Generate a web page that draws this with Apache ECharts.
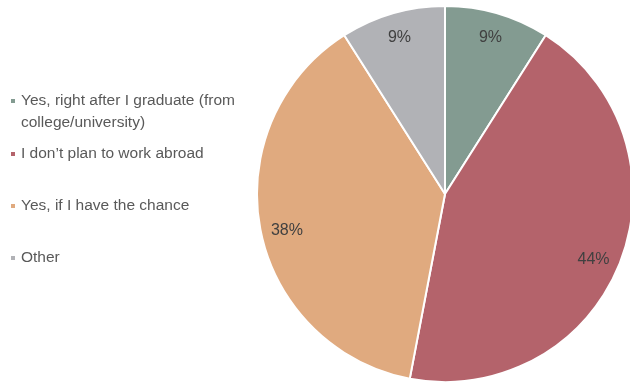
<!DOCTYPE html>
<html><head><meta charset="utf-8">
<script src="https://cdn.jsdelivr.net/npm/echarts@6/dist/echarts.min.js"></script>
<style>html,body{margin:0;padding:0;background:#fff}#c{width:630px;height:383px}</style>
</head><body><div id="c"></div>
<script>
const categories = ['Yes, right after I graduate (from\ncollege/university)', 'I don\u2019t plan to work abroad', 'Yes, if I have the chance', 'Other'];
const values = [9, 44, 38, 9];
const colors = ['#839B91', '#B4636B', '#E0AA7F', '#B1B2B6'];
const legendTops = [68, 143, 195, 247];
const labelShift = [[0, 0], [-3, 6], [2, 6], [0, 0]];

const chart = echarts.init(document.getElementById('c'));
const data = categories.map((n, i) => ({ name: n, value: values[i], itemStyle: { color: colors[i] } }));
const font = 'Liberation Sans';
const legends = categories.map((n, i) => ({
  orient: 'vertical', left: 9, top: legendTops[i], padding: 0,
  data: [n], icon: 'rect', itemWidth: 6, itemHeight: 6, itemGap: 8,
  selectedMode: false,
  formatter: i === 0 ? (name => '\n' + name) : '{name}',
  textStyle: { fontFamily: font, fontSize: 15.5, color: '#595959', lineHeight: 22 }
}));
chart.setOption({
  animation: false,
  legend: legends,
  series: [{
    type: 'pie', center: [445, 194], radius: 188, startAngle: 90, clockwise: true,
    data: data, label: { show: false }, labelLine: { show: false },
    itemStyle: { borderColor: '#fff', borderWidth: 2 }, silent: true
  }, {
    type: 'pie', center: [445, 194], radius: [132, 188], startAngle: 90, clockwise: true,
    data: data.map((d, i) => ({ name: d.name, value: d.value, itemStyle: { color: 'rgba(0,0,0,0)' }, label: { offset: labelShift[i] } })),
    label: { show: true, position: 'inside', formatter: '{c}%', fontFamily: font, fontSize: 16, color: '#404040' },
    labelLine: { show: false }, itemStyle: { borderWidth: 0 }, silent: true
  }]
});
</script></body></html>
